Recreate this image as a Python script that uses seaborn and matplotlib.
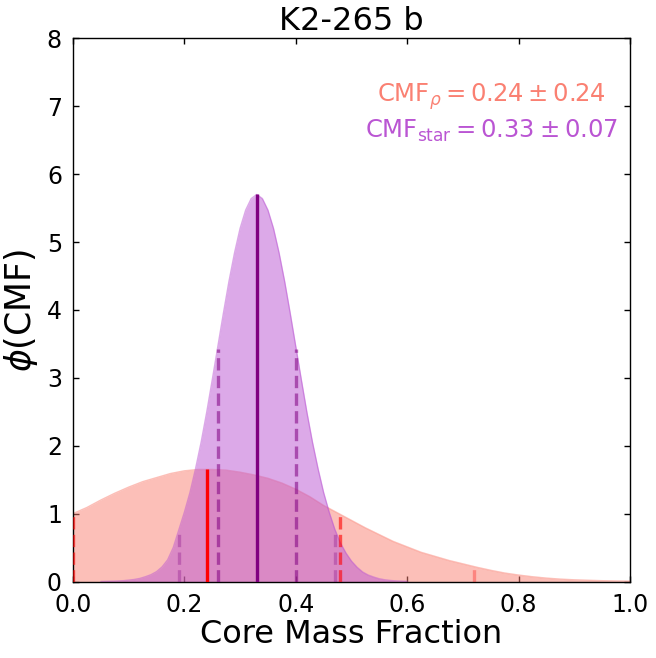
import numpy as np
import pandas as pd
import matplotlib
matplotlib.use("Agg")
import matplotlib.pyplot as plt
import seaborn as sns

# ---- data ----
rho_x = [0.000, 0.025, 0.050, 0.075, 0.100, 0.125, 0.150, 0.175, 0.200, 0.225,
         0.250, 0.275, 0.300, 0.325, 0.350, 0.375, 0.400, 0.425, 0.450, 0.475,
         0.500, 0.525, 0.550, 0.575, 0.600, 0.625, 0.650, 0.675, 0.700, 0.725,
         0.750, 0.775, 0.800, 0.825, 0.850, 0.875, 0.900, 0.925, 0.950, 0.975, 1.000]
rho_y = [1.00, 1.09, 1.20, 1.30, 1.39, 1.47, 1.53, 1.59, 1.63, 1.65,
         1.65, 1.64, 1.61, 1.57, 1.52, 1.45, 1.36, 1.25, 1.12, 1.01,
         0.90, 0.79, 0.69, 0.59, 0.51, 0.43, 0.37, 0.31, 0.26, 0.21,
         0.165, 0.125, 0.095, 0.07, 0.05, 0.035, 0.025, 0.018, 0.012, 0.008, 0.005]

star_x = [0.05, 0.06, 0.07, 0.08, 0.09, 0.10, 0.11, 0.12, 0.13, 0.14,
          0.15, 0.16, 0.17, 0.18, 0.19, 0.20, 0.21, 0.22, 0.23, 0.24,
          0.25, 0.26, 0.27, 0.28, 0.29, 0.30, 0.31, 0.32, 0.33, 0.34,
          0.35, 0.36, 0.37, 0.38, 0.39, 0.40, 0.41, 0.42, 0.43, 0.44,
          0.45, 0.46, 0.47, 0.48, 0.49, 0.50, 0.51, 0.52, 0.53, 0.54,
          0.55, 0.56, 0.57, 0.58, 0.59, 0.60]
star_y = [0.0, 0.002, 0.004, 0.007, 0.012, 0.02, 0.03, 0.045, 0.07, 0.10,
          0.145, 0.215, 0.32, 0.50, 0.76, 1.02, 1.31, 1.66, 2.05, 2.49,
          2.97, 3.46, 3.95, 4.42, 4.84, 5.20, 5.47, 5.64, 5.70, 5.64,
          5.47, 5.20, 4.84, 4.42, 3.95, 3.46, 2.97, 2.49, 2.05, 1.66,
          1.31, 1.02, 0.77, 0.57, 0.42, 0.30, 0.21, 0.14, 0.095, 0.065,
          0.04, 0.025, 0.015, 0.009, 0.005, 0.002]

# median, 1-sigma and 2-sigma markers: (x, height)
rho_med = (0.24, 1.66)
rho_1sig_x = [0.00, 0.48]
rho_1sig_h = [1.00, 1.00]
rho_2sig_x = [0.72]
rho_2sig_h = [0.22]

star_med = (0.33, 5.70)
star_1sig_x = [0.26, 0.40]
star_1sig_h = [3.42, 3.42]
star_2sig_x = [0.19, 0.47]
star_2sig_h = [0.77, 0.77]

title = "K2-265 b"
label_rho = r"$\mathrm{CMF}_{\rho} = 0.24 \pm 0.24$"
label_star = r"$\mathrm{CMF}_{\mathrm{star}} = 0.33 \pm 0.07$"
xticks = [0.0, 0.2, 0.4, 0.6, 0.8, 1.0]
yticks = [0, 1, 2, 3, 4, 5, 6, 7, 8]

# ---- plot ----
sns.set_style("ticks")
plt.rcParams["font.family"] = ["DejaVu Sans"]
plt.rcParams["mathtext.fontset"] = "dejavusans"
plt.rcParams["text.color"] = "black"
plt.rcParams["axes.labelcolor"] = "black"
plt.rcParams["xtick.color"] = "black"
plt.rcParams["ytick.color"] = "black"

fig = plt.figure(figsize=(6.56, 6.58), dpi=100)
ax = fig.add_axes([73 / 656, 1 - 581.5 / 658, 557 / 656, (581.5 - 38.3) / 658])

df_rho = pd.DataFrame({"x": rho_x, "y": rho_y})
df_star = pd.DataFrame({"x": star_x, "y": star_y})

ax.fill_between(df_rho["x"], 0, df_rho["y"], color="salmon", alpha=0.5, lw=0, zorder=1)
sns.lineplot(data=df_rho, x="x", y="y", ax=ax, color="salmon", alpha=0.5, lw=1, zorder=1)
ax.fill_between(df_star["x"], 0, df_star["y"], color="mediumorchid", alpha=0.5, lw=0, zorder=2)
sns.lineplot(data=df_star, x="x", y="y", ax=ax, color="mediumorchid", alpha=0.5, lw=1, zorder=2)

lw = 2.4
ax.vlines(rho_1sig_x, 0, rho_1sig_h, colors="red", alpha=0.6, linestyles="--", lw=lw, zorder=3)
ax.vlines(rho_2sig_x, 0, rho_2sig_h, colors="red", alpha=0.3, linestyles="--", lw=lw, zorder=3)
ax.vlines(star_1sig_x, 0, star_1sig_h, colors="purple", alpha=0.55, linestyles="--", lw=lw, zorder=3)
ax.vlines(star_2sig_x, 0, star_2sig_h, colors="purple", alpha=0.3, linestyles="--", lw=lw, zorder=3)
ax.vlines([rho_med[0]], 0, [rho_med[1]], colors="red", lw=lw, zorder=4)
ax.vlines([star_med[0]], 0, [star_med[1]], colors="purple", lw=lw, zorder=4)

ax.set_xlim(0, 1)
ax.set_ylim(0, 8)
ax.set_xticks(xticks)
ax.set_yticks(yticks)
ax.set_xticklabels([f"{t:.1f}" for t in xticks])
ax.set_yticklabels([str(t) for t in yticks])
ax.tick_params(direction="in", top=True, right=True, labelsize=17, length=4, width=1,
               color="black", labelcolor="black")
ax.tick_params(axis="x", pad=8)
ax.tick_params(axis="y", pad=8)
for s in ax.spines.values():
    s.set_visible(True)
    s.set_color("black")
    s.set_linewidth(1)

ax.set_xlabel("Core Mass Fraction", fontsize=23, labelpad=2, color="black")
ax.set_ylabel(r"$\phi$(CMF)", fontsize=25, labelpad=5, color="black")
ax.set_title(title, fontsize=23, pad=6, color="black")

ax.text(0.752, 7.14, label_rho, color="salmon", fontsize=17.5, ha="center", va="center")
ax.text(0.752, 6.63, label_star, color="mediumorchid", fontsize=17.5, ha="center", va="center")

fig.savefig("out.png", dpi=100)
